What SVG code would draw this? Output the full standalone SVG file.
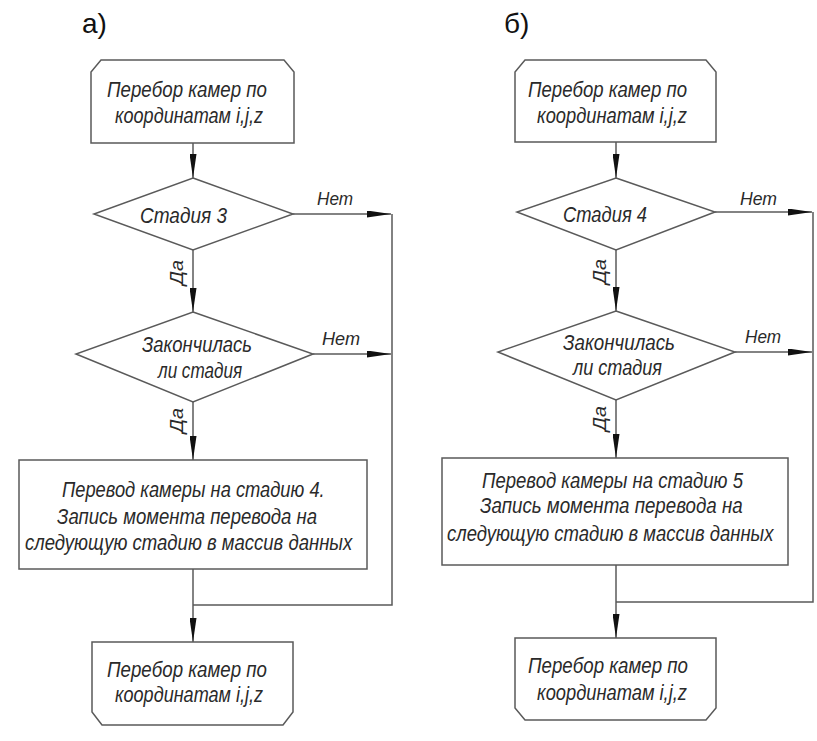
<svg xmlns="http://www.w3.org/2000/svg" width="817" height="741" viewBox="0 0 817 741">
<style>
.shape{fill:#fff;stroke:#5a5a5a;stroke-width:1.5}
.ln{fill:none;stroke:#5a5a5a;stroke-width:1.5}
.t{font-family:"Liberation Sans",Arial,sans-serif;font-style:italic;font-size:22px;fill:#2a2a2a}
.lb{font-family:"Liberation Sans",Arial,sans-serif;font-style:italic;font-size:19px;fill:#2a2a2a}
.hd{font-family:"Liberation Sans",Arial,sans-serif;font-size:28px;fill:#111}
</style>
<defs>
<marker id="ah" markerUnits="userSpaceOnUse" markerWidth="24" markerHeight="7" refX="24" refY="3.5" orient="auto">
<path d="M0,0 L24,3.5 L0,7 Z" fill="#111"/>
</marker>
</defs>
<rect width="817" height="741" fill="#fff"/>
<text class="hd" x="82" y="33">а)</text>
<text class="hd" x="504" y="33">б)</text>
<g id="connectors">
<line class="ln" x1="193" y1="143" x2="193" y2="178" marker-end="url(#ah)"/>
<line class="ln" x1="193" y1="250" x2="193" y2="312" marker-end="url(#ah)"/>
<line class="ln" x1="193" y1="402" x2="193" y2="460" marker-end="url(#ah)"/>
<line class="ln" x1="193" y1="569" x2="193" y2="642" marker-end="url(#ah)"/>
<line class="ln" x1="293" y1="214" x2="391" y2="214" marker-end="url(#ah)"/>
<line class="ln" x1="313" y1="354" x2="391" y2="354" marker-end="url(#ah)"/>
<polyline class="ln" points="392,214 392,605 193,605"/>
<line class="ln" x1="616" y1="142" x2="616" y2="178" marker-end="url(#ah)"/>
<line class="ln" x1="616" y1="250" x2="616" y2="311" marker-end="url(#ah)"/>
<line class="ln" x1="616" y1="400" x2="616" y2="458" marker-end="url(#ah)"/>
<line class="ln" x1="616" y1="565" x2="616" y2="638" marker-end="url(#ah)"/>
<line class="ln" x1="715" y1="212" x2="812" y2="212" marker-end="url(#ah)"/>
<line class="ln" x1="735" y1="352" x2="812" y2="352" marker-end="url(#ah)"/>
<polyline class="ln" points="813,212 813,602 616,602"/>
<text class="lb" x="317" y="205" textLength="36" lengthAdjust="spacingAndGlyphs">Нет</text>
<text class="lb" x="322" y="345" textLength="38" lengthAdjust="spacingAndGlyphs">Нет</text>
<text class="lb" transform="translate(183,285) rotate(-90)" textLength="25" lengthAdjust="spacingAndGlyphs">Да</text>
<text class="lb" transform="translate(183,433) rotate(-90)" textLength="25" lengthAdjust="spacingAndGlyphs">Да</text>
<text class="lb" x="740" y="205" textLength="37" lengthAdjust="spacingAndGlyphs">Нет</text>
<text class="lb" x="745" y="343" textLength="36" lengthAdjust="spacingAndGlyphs">Нет</text>
<text class="lb" transform="translate(606,284) rotate(-90)" textLength="25" lengthAdjust="spacingAndGlyphs">Да</text>
<text class="lb" transform="translate(606,431) rotate(-90)" textLength="25" lengthAdjust="spacingAndGlyphs">Да</text>
</g>
<g id="a_start">
<path class="shape" d="M91,143 L91,72 L101,60 L284,60 L294,72 L294,143 Z"/>
<text class="t" x="107" y="97" textLength="160" lengthAdjust="spacingAndGlyphs">Перебор камер по</text>
<text class="t" x="115" y="123" textLength="148" lengthAdjust="spacingAndGlyphs">координатам i,j,z</text>
</g>
<g id="a_stage3">
<polygon class="shape" points="193,178 293,214 193,250 94,214"/>
<text class="t" x="140" y="223" textLength="87" lengthAdjust="spacingAndGlyphs">Стадия 3</text>
</g>
<g id="a_finished">
<polygon class="shape" points="193,312 313,354 193,402 76,354"/>
<text class="t" x="142" y="352" textLength="110" lengthAdjust="spacingAndGlyphs">Закончилась</text>
<text class="t" x="158" y="378" textLength="84" lengthAdjust="spacingAndGlyphs">ли стадия</text>
</g>
<g id="a_transfer">
<rect class="shape" x="19" y="460" width="348" height="109"/>
<text class="t" transform="translate(62,497) scale(0.85,1)" textLength="309" lengthAdjust="spacingAndGlyphs">Перевод камеры на стадию 4.</text>
<text class="t" transform="translate(57,524) scale(0.85,1)" textLength="306" lengthAdjust="spacingAndGlyphs">Запись момента перевода на</text>
<text class="t" transform="translate(25,550) scale(0.85,1)" textLength="385" lengthAdjust="spacingAndGlyphs">следующую стадию в массив данных</text>
</g>
<g id="a_end">
<path class="shape" d="M92,642 L293,642 L293,712 L283,725 L102,725 L92,712 Z"/>
<text class="t" x="107" y="677" textLength="160" lengthAdjust="spacingAndGlyphs">Перебор камер по</text>
<text class="t" x="115" y="702" textLength="148" lengthAdjust="spacingAndGlyphs">координатам i,j,z</text>
</g>
<g id="b_start">
<path class="shape" d="M515,142 L515,72 L525,60 L706,60 L716,72 L716,142 Z"/>
<text class="t" x="528" y="97" textLength="159" lengthAdjust="spacingAndGlyphs">Перебор камер по</text>
<text class="t" x="537" y="123" textLength="150" lengthAdjust="spacingAndGlyphs">координатам i,j,z</text>
</g>
<g id="b_stage4">
<polygon class="shape" points="616,178 715,212 616,250 517,212"/>
<text class="t" x="563" y="222" textLength="84" lengthAdjust="spacingAndGlyphs">Стадия 4</text>
</g>
<g id="b_finished">
<polygon class="shape" points="616,311 735,352 616,400 498,352"/>
<text class="t" x="563" y="350" textLength="112" lengthAdjust="spacingAndGlyphs">Закончилась</text>
<text class="t" x="573" y="375" textLength="89" lengthAdjust="spacingAndGlyphs">ли стадия</text>
</g>
<g id="b_transfer">
<rect class="shape" x="442" y="458" width="346" height="107"/>
<text class="t" transform="translate(482,488) scale(0.85,1)" textLength="307" lengthAdjust="spacingAndGlyphs">Перевод камеры на стадию 5</text>
<text class="t" transform="translate(480,513) scale(0.85,1)" textLength="309" lengthAdjust="spacingAndGlyphs">Запись момента перевода на</text>
<text class="t" transform="translate(447,541) scale(0.85,1)" textLength="384" lengthAdjust="spacingAndGlyphs">следующую стадию в массив данных</text>
</g>
<g id="b_end">
<path class="shape" d="M515,638 L716,638 L716,708 L706,720 L525,720 L515,708 Z"/>
<text class="t" x="528" y="673" textLength="160" lengthAdjust="spacingAndGlyphs">Перебор камер по</text>
<text class="t" x="537" y="700" textLength="150" lengthAdjust="spacingAndGlyphs">координатам i,j,z</text>
</g>
</svg>
